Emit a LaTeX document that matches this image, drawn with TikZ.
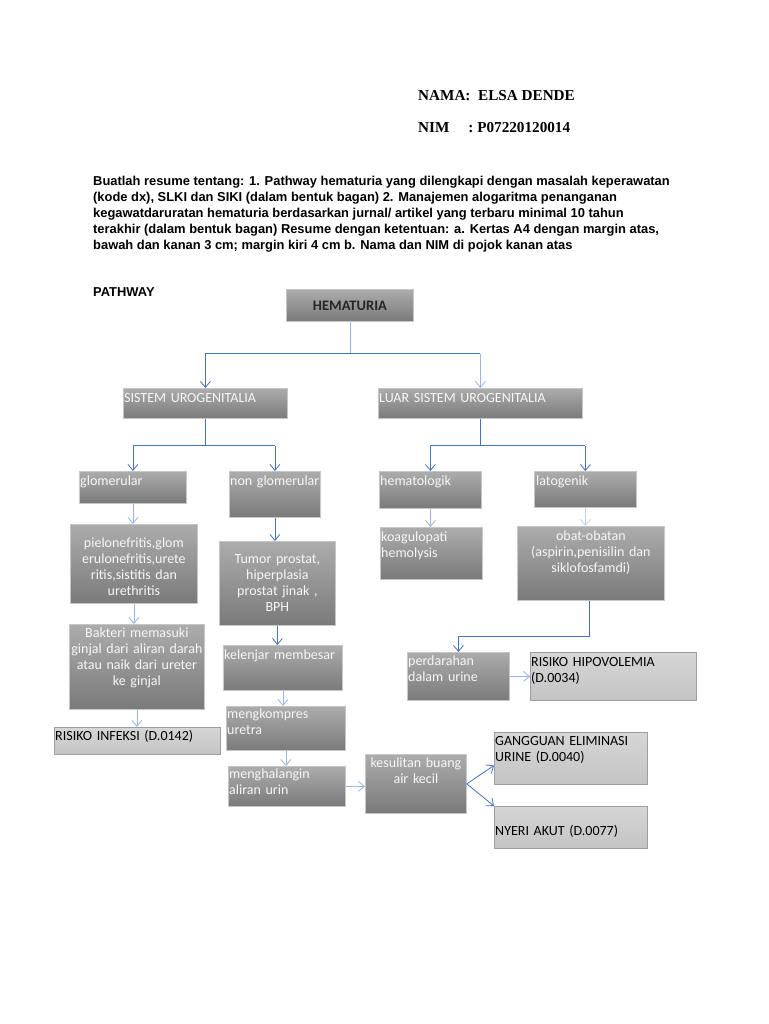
\documentclass[tikz,border=0pt]{standalone}
\usepackage{fontspec}
\setmainfont{Liberation Serif}
\newfontfamily\arialFont{Liberation Sans}
\newfontfamily\calibriFont{Carlito}
\usetikzlibrary{arrows.meta,calc}

\definecolor{pathLine}{RGB}{68,114,196}
\definecolor{pathLinePale}{RGB}{152,182,232}
\definecolor{pathBoxTop}{RGB}{172,172,172}
\definecolor{pathBoxBottom}{RGB}{122,122,122}
\definecolor{pathBoxBorder}{RGB}{198,198,198}
\definecolor{pathBoxText}{RGB}{247,247,247}
\definecolor{pathDxTop}{RGB}{214,214,214}
\definecolor{pathDxBottom}{RGB}{196,196,196}
\definecolor{pathDxBorder}{RGB}{158,158,158}

\begin{document}
\begin{tikzpicture}[x=1pt,y=-1pt,
      idline/.style={font=\bfseries\fontsize{15.2}{18}\selectfont,
        inner sep=0pt, anchor=base west},
      brief/.style={font=\arialFont\bfseries\fontsize{12.9}{16}\selectfont,
        inner sep=0pt, align=left, anchor=north west},
      stage/.style={draw=pathBoxBorder, line width=.8pt, top color=pathBoxTop,
        bottom color=pathBoxBottom, inner sep=0pt, anchor=north west},
      dx/.style={draw=pathDxBorder, line width=.8pt, top color=pathDxTop,
        bottom color=pathDxBottom, inner sep=0pt, anchor=north west},
      stageText/.style={font=\calibriFont\fontsize{14}{16.3}\selectfont,
        text=pathBoxText, inner sep=0pt, text width=200, align=left,
        anchor=base west},
      stageMid/.style={stageText, align=center, anchor=base},
      dxText/.style={stageText, text=black},
      link/.style={draw=pathLine, line width=.8pt,
        -{Straight Barb[length=6pt,width=10pt]}},
      faintLink/.style={link, draw=pathLinePale},
      trunk/.style={draw=pathLine, line width=.8pt}]
      \useasboundingbox (0,0) rectangle (768,1024);
      \fill[white] (0,0) rectangle (768,1024);

      % identity and task
      \node[idline] (nama) at (418,101) {NAMA:\ \ ELSA DENDE};
      \node[idline] (nim) at (418,133) {NIM\hspace{19pt}: P07220120014};
      \node[brief] (task) at (93,176) {Buatlah resume tentang: 1. Pathway hematuria yang dilengkapi dengan masalah keperawatan\\
        (kode dx), SLKI dan SIKI (dalam bentuk bagan) 2. Manajemen alogaritma penanganan\\
        kegawatdaruratan hematuria berdasarkan jurnal/ artikel yang terbaru minimal 10 tahun\\
        terakhir (dalam bentuk bagan) Resume dengan ketentuan: a. Kertas A4 dengan margin atas,\\
        bawah dan kanan 3 cm; margin kiri 4 cm b. Nama dan NIM di pojok kanan atas};
      \node[brief] (pathway) at (93,287) {PATHWAY};

      % boxes
      \node[stage, minimum width=127, minimum height=32] (hem) at (286,289) {};
      \node[font=\calibriFont\bfseries\fontsize{14.5}{16}\selectfont, inner sep=0pt,
        text=black!85] at (hem.center) {HEMATURIA};
      \node[stage, minimum width=164, minimum height=30] (sis) at (123,388) {};
      \node[stageText] at ($(sis.north west)+(1,14)$) {SISTEM UROGENITALIA};
      \node[stage, minimum width=204, minimum height=30] (luar) at (378,388) {};
      \node[stageText] at ($(luar.north west)+(1,14)$) {LUAR SISTEM UROGENITALIA};

      \node[stage, minimum width=107, minimum height=32] (glom) at (79,471) {};
      \node[stageText] at ($(glom.north west)+(1,14)$) {glomerular};
      \node[stage, minimum width=91, minimum height=46] (nonglom) at (229,471) {};
      \node[stageText] at ($(nonglom.north west)+(1,14)$) {non glomerular};
      \node[stage, minimum width=102, minimum height=37] (hemato) at (379,471) {};
      \node[stageText] at ($(hemato.north west)+(1,14)$) {hematologik};
      \node[stage, minimum width=102, minimum height=36] (lato) at (534,471) {};
      \node[stageText] at ($(lato.north west)+(2,14)$) {latogenik};

      \node[stage, minimum width=127, minimum height=79] (piel) at (70,524) {};
      \node[stageMid, text width=127] at ($(piel.north)+(0,23)$)
        {pielonefritis,glom\\erulonefritis,urete\\ritis,sistitis dan\\urethritis};
      \node[stage, minimum width=135, minimum height=85] (bak) at (69,624) {};
      \node[stageMid, text width=135] at ($(bak.north)+(0,13)$)
        {Bakteri memasuki\\ginjal dari aliran darah\\atau naik dari ureter\\ke ginjal};
      \node[dx, minimum width=166, minimum height=27] (infeksi) at (54,727) {};
      \node[dxText] at ($(infeksi.north west)+(1,13)$) {RISIKO INFEKSI (D.0142)};

      \node[stage, minimum width=116, minimum height=84] (tumor) at (219,541) {};
      \node[stageMid, text width=116] at ($(tumor.north)+(0,22)$)
        {Tumor prostat,\\hiperplasia\\prostat jinak ,\\BPH};
      \node[stage, minimum width=119, minimum height=45] (kelenjar) at (223,645) {};
      \node[stageText] at ($(kelenjar.north west)+(1,14)$) {kelenjar membesar};
      \node[stage, minimum width=119, minimum height=44] (kompres) at (226,706) {};
      \node[stageText] at ($(kompres.north west)+(1,12.5)$) {mengkompres\\uretra};
      \node[stage, minimum width=117, minimum height=40] (halang) at (228,766) {};
      \node[stageText] at ($(halang.north west)+(1,12.5)$) {menghalangin\\aliran urin};
      \node[stage, minimum width=101, minimum height=59] (sulit) at (365,754) {};
      \node[stageMid, text width=101] at ($(sulit.north)+(0,13.5)$)
        {kesulitan buang\\air kecil};
      \node[dx, minimum width=153, minimum height=52] (eliminasi) at (494,732) {};
      \node[dxText] at ($(eliminasi.north west)+(1,13)$) {GANGGUAN ELIMINASI\\URINE (D.0040)};
      \node[dx, minimum width=153, minimum height=42] (nyeri) at (494,806) {};
      \node[dxText] at ($(nyeri.north west)+(1,29)$) {NYERI AKUT (D.0077)};

      \node[stage, minimum width=102, minimum height=52] (koag) at (380,527) {};
      \node[stageText] at ($(koag.north west)+(1,14.5)$) {koagulopati\\hemolysis};
      \node[stage, minimum width=147, minimum height=74] (obat) at (517,526) {};
      \node[stageMid, text width=147] at ($(obat.north)+(0,14)$)
        {obat-obatan\\(aspirin,penisilin dan\\siklofosfamdi)};
      \node[stage, minimum width=102, minimum height=48] (perd) at (407,652) {};
      \node[stageText] at ($(perd.north west)+(1,13)$) {perdarahan\\dalam urine};
      \node[dx, minimum width=166, minimum height=48] (hipo) at (530,652) {};
      \node[dxText] at ($(hipo.north west)+(1,14.5)$) {RISIKO HIPOVOLEMIA\\(D.0034)};

      % connectors
      \coordinate (hemSplit) at ($(hem.south)+(0,32)$);
      \draw[trunk, draw=pathLinePale] (hem.south) -- (hemSplit);
      \draw[trunk] (sis.north |- hemSplit) -- (luar.north |- hemSplit);
      \draw[link] (sis.north |- hemSplit) -- (sis.north);
      \draw[faintLink] (luar.north |- hemSplit) -- (luar.north);

      \coordinate (sisSplit) at ($(sis.south)+(0,27)$);
      \draw[trunk] (sis.south) -- (sisSplit);
      \draw[trunk] (glom.north |- sisSplit) -- (nonglom.north |- sisSplit);
      \draw[link] (glom.north |- sisSplit) -- (glom.north);
      \draw[link] (nonglom.north |- sisSplit) -- (nonglom.north);

      \coordinate (luarSplit) at ($(luar.south)+(0,27)$);
      \draw[trunk] (luar.south) -- (luarSplit);
      \draw[trunk] (hemato.north |- luarSplit) -- (lato.north |- luarSplit);
      \draw[link] (hemato.north |- luarSplit) -- (hemato.north);
      \draw[link] (lato.north |- luarSplit) -- (lato.north);

      \draw[faintLink] (glom.south) -- (glom.south |- piel.north);
      \draw[faintLink] (piel.south) -- (piel.south |- bak.north);
      \draw[faintLink] (bak.south) -- (bak.south |- infeksi.north);
      \draw[link] (nonglom.south) -- (nonglom.south |- tumor.north);
      \draw[link] (tumor.south) -- (tumor.south |- kelenjar.north);
      \draw[faintLink] (kelenjar.south) -- (kelenjar.south |- kompres.north);
      \draw[faintLink] (kompres.south) -- (kompres.south |- halang.north);
      \draw[faintLink] (halang.east) -- (halang.east -| sulit.west);
      \draw[link] (sulit.east) -- ([yshift=-7pt]eliminasi.west);
      \draw[link] (sulit.east) -- (nyeri.north west);

      \draw[faintLink] (hemato.south) -- (hemato.south |- koag.north);
      \draw[faintLink, draw=pathLinePale!60] (lato.south) -- (lato.south |- obat.north);
      \coordinate (obatTurn) at ($(obat.south)+(-2,36)$);
      \draw[trunk] (obat.south -| obatTurn) -- (obatTurn);
      \draw[link] (obatTurn) -| (perd.north);
      \draw[faintLink] (perd.east) -- (hipo.west);
    \end{tikzpicture}
\end{document}
